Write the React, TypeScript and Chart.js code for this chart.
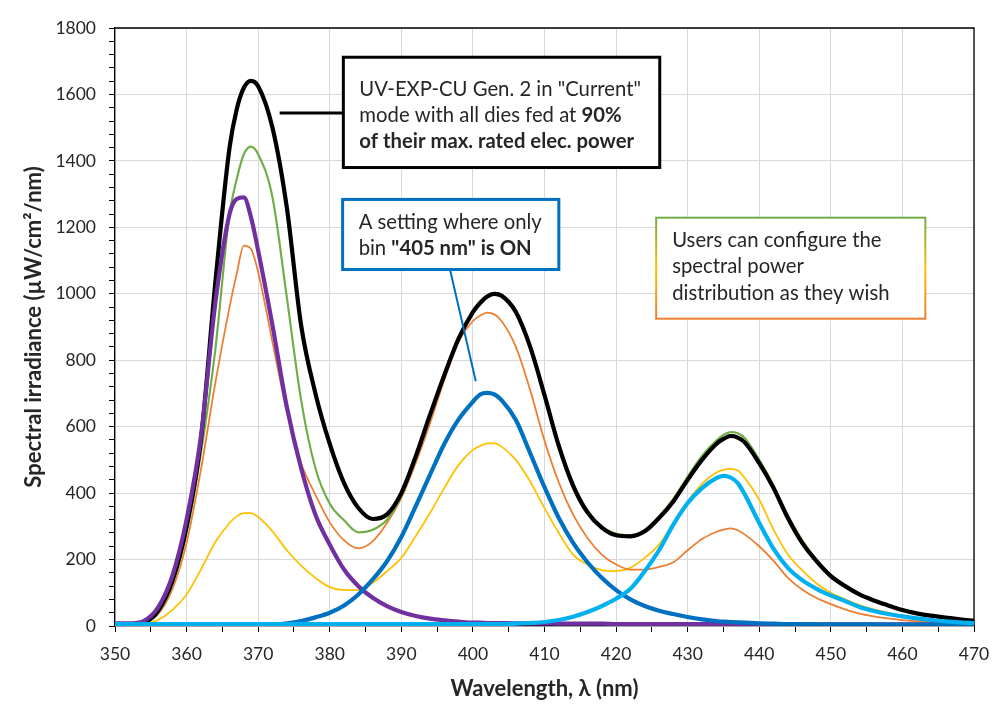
import React, { useEffect, useRef } from "react";
import { Chart, registerables } from "chart.js";

Chart.register(...registerables);

// Wavelength grid (nm)
const wavelengths = [
  350, 352, 354, 356, 358, 360, 362, 364, 366,
  367, 368, 369, 370,
  372, 374, 376, 378, 380, 382, 384, 386, 388, 390, 392, 394, 396, 398, 400,
  401, 402, 403, 404,
  406, 408, 410, 412, 414, 416, 418, 420, 422, 424, 426, 428, 430, 432, 434,
  435, 436, 437, 438,
  440, 442, 444, 446, 448, 450, 452, 454, 456, 458, 460, 462, 464, 466, 468, 470,
];

// Black: all dies at 90 %
const allDies90 = [
  5, 5, 10, 45, 135, 300, 560, 1030, 1440,
  1555, 1620, 1641, 1625,
  1500, 1260, 905, 700, 548, 430, 355, 322, 336, 400, 510, 635, 755, 865, 945,
  972, 992, 1000, 994,
  945, 840, 695, 542, 422, 342, 296, 273, 270, 285, 325, 375, 440, 500, 548,
  563, 572, 567, 552,
  490, 415, 325, 250, 195, 150, 120, 95, 77, 62, 48, 38, 31, 25, 20, 16,
];

// Green user configuration
const configGreen = [
  5, 5, 10, 40, 125, 280, 520, 830, 1240,
  1345, 1420, 1443, 1420,
  1290, 990, 680, 475, 368, 318, 282, 290, 320, 392, 505, 635, 760, 870, 950,
  978, 996, 1003, 998,
  950, 845, 700, 548, 430, 348, 300, 278, 273, 289, 330, 383, 450, 512, 558,
  575, 584, 580, 565,
  500, 423, 333, 258, 200, 154, 122, 97, 79, 64, 50, 40, 32, 26, 21, 17,
];

// Orange user configuration
const configOrange = [
  5, 5, 10, 35, 110, 250, 470, 730, 960,
  1060, 1145, 1135, 1065,
  855, 645, 490, 395, 312, 258, 234, 255, 310, 385, 490, 610, 740, 855, 918,
  934, 943, 938, 918,
  840, 710, 558, 432, 335, 265, 215, 185, 170, 170, 178, 192, 228, 262, 283,
  290, 294, 288, 275,
  240, 196, 145, 110, 84, 66, 50, 37, 29, 23, 18, 15, 13, 11, 10, 9,
];

// Yellow user configuration
const configYellow = [
  3, 3, 6, 18, 48, 95, 170, 252, 310,
  330, 340, 340, 328,
  285, 228, 182, 145, 117, 108, 108, 130, 165, 205, 270, 340, 415, 485, 530,
  542, 550, 550, 540,
  500, 435, 355, 280, 215, 185, 168, 165, 175, 205, 245, 310, 375, 428, 462,
  470, 473, 468, 445,
  380, 290, 215, 168, 128, 100, 80, 63, 50, 40, 30, 24, 19, 15, 12, 10,
];

// Purple: only bin "365 nm"
const bin365 = [
  8, 8, 15, 55, 150, 320, 570, 970, 1240,
  1285, 1290, 1230, 1130,
  905, 660, 475, 335, 245, 170, 120, 85, 60, 42, 30, 22, 17, 13, 10,
  10, 9, 9, 9,
  8, 8, 8, 7, 7, 7, 7, 6, 6, 6, 6, 6, 6, 6, 6,
  6, 6, 6, 6,
  6, 6, 5, 5, 5, 5, 5, 5, 5, 5, 5, 5, 5, 5, 5, 5,
];

// Dark blue: only bin "405 nm"
const bin405 = [
  0, 0, 0, 0, 0, 0, 1, 1, 1,
  1, 2, 2, 2,
  4, 8, 15, 26, 40, 62, 95, 140, 195, 268, 360, 455, 548, 622, 675,
  697, 702, 697, 680,
  620, 520, 418, 325, 250, 192, 145, 108, 80, 60, 46, 36, 27, 20, 15,
  13, 12, 11, 10,
  8, 7, 6, 6, 5, 5, 5, 5, 5, 4, 4, 4, 4, 4, 4, 4,
];

// Light blue: only bin "435 nm"
const bin435 = [
  6, 6, 6, 6, 6, 6, 6, 6, 6,
  6, 6, 6, 6,
  6, 6, 6, 6, 6, 6, 6, 6, 6, 6, 6, 6, 6, 6, 6,
  6, 6, 6, 6,
  7, 9, 12, 18, 28, 42, 60, 82, 112, 165, 228, 305, 370, 415, 445,
  452, 447, 430, 395,
  310, 232, 175, 138, 112, 92, 75, 57, 45, 36, 29, 23, 18, 14, 11, 9,
];

const X_MIN = 350;
const X_MAX = 470;
const X_STEP = 5;
const X_LABEL_STEP = 10;
const Y_MIN = 0;
const Y_MAX = 1800;
const Y_STEP = 40;
const Y_LABEL_STEP = 200;

const X_TITLE = "Wavelength, λ (nm)";
const Y_TITLE = "Spectral irradiance (µW/cm²/nm)";

const FONT = "Lato, 'Open Sans', sans-serif";
const TEXT = "#262626";

type Seg = { t: string; b?: boolean };

const noteMain: Seg[][] = [
  [{ t: 'UV-EXP-CU Gen. 2 in "Current"' }],
  [{ t: "mode with all dies fed at " }, { t: "90%", b: true }],
  [{ t: "of their max. rated elec. power", b: true }],
];
const note405: Seg[][] = [
  [{ t: "A setting where only" }],
  [{ t: "bin " }, { t: '"405 nm" is ON', b: true }],
];
const noteUsers: Seg[][] = [
  [{ t: "Users can configure the" }],
  [{ t: "spectral power" }],
  [{ t: "distribution as they wish" }],
];

function pts(vals: number[]) {
  return wavelengths.map((x, i) => ({ x, y: vals[i] }));
}

function drawRich(ctx: CanvasRenderingContext2D, segs: Seg[], x: number, y: number, size: number) {
  let cx = x;
  for (const s of segs) {
    ctx.font = `${s.b ? "bold " : ""}${size}px ${FONT}`;
    ctx.fillStyle = TEXT;
    ctx.textAlign = "left";
    ctx.textBaseline = "alphabetic";
    ctx.fillText(s.t, cx, y);
    cx += ctx.measureText(s.t).width;
  }
}

const notesPlugin = {
  id: "notes",
  beforeDatasetsDraw(chart: any) {
    const { ctx, chartArea } = chart;
    ctx.save();
    ctx.strokeStyle = "#000";
    ctx.lineWidth = 1.3;
    ctx.beginPath();
    ctx.moveTo(chartArea.left, chartArea.top);
    ctx.lineTo(chartArea.right, chartArea.top);
    ctx.lineTo(chartArea.right, chartArea.bottom);
    ctx.stroke();
    ctx.restore();
  },
  afterDatasetsDraw(chart: any) {
    const { ctx } = chart;
    const xs = chart.scales.x;
    const ys = chart.scales.y;
    const px = (v: number) => xs.getPixelForValue(v);
    const py = (v: number) => ys.getPixelForValue(v);
    const size = 20.3;
    ctx.save();

    // Box 1 (black)
    {
      const l = px(381.9), r = px(426.1), t = py(1712), b = py(1380);
      const cy = py(1544);
      ctx.strokeStyle = "#000";
      ctx.lineWidth = 3;
      ctx.beginPath();
      ctx.moveTo(px(373.0), cy);
      ctx.lineTo(l, cy);
      ctx.stroke();
      ctx.fillStyle = "#fff";
      ctx.fillRect(l, t, r - l, b - t);
      ctx.strokeRect(l, t, r - l, b - t);
      noteMain.forEach((line, i) => drawRich(ctx, line, l + 16, t + 38.5 + i * 26, size));
    }

    // Box 2 (blue)
    {
      const l = px(381.8), r = px(412.0), t = py(1284), b = py(1073);
      ctx.strokeStyle = "#0070C0";
      ctx.lineWidth = 2;
      ctx.beginPath();
      ctx.moveTo(px(396.8), b);
      ctx.lineTo(px(400.4), py(737));
      ctx.stroke();
      ctx.lineWidth = 3;
      ctx.fillStyle = "#fff";
      ctx.fillRect(l, t, r - l, b - t);
      ctx.strokeRect(l, t, r - l, b - t);
      note405.forEach((line, i) => drawRich(ctx, line, l + 16, t + 29.5 + i * 26, size));
    }

    // Box 3 (gradient border)
    {
      const l = px(425.6), r = px(463.2), t = py(1229), b = py(925);
      const g = ctx.createLinearGradient(0, t, 0, b);
      g.addColorStop(0, "#70AD47");
      g.addColorStop(0.5, "#FFC000");
      g.addColorStop(1, "#ED7D31");
      ctx.fillStyle = "#fff";
      ctx.fillRect(l, t, r - l, b - t);
      ctx.strokeStyle = g;
      ctx.lineWidth = 2;
      ctx.strokeRect(l, t, r - l, b - t);
      noteUsers.forEach((line, i) => drawRich(ctx, line, l + 16, t + 29 + i * 26.5, size));
    }
    ctx.restore();
  },
};

export default function App() {
  const ref = useRef<HTMLCanvasElement | null>(null);

  useEffect(() => {
    if (!ref.current) return;
    const thin = 1.75;
    const thick = 4.2;
    const mk = (label: string, vals: number[], color: string, w: number, order: number) => ({
      label,
      data: pts(vals),
      borderColor: color,
      backgroundColor: color,
      borderWidth: w,
      pointRadius: 0,
      fill: false,
      cubicInterpolationMode: "monotone" as const,
      order,
    });
    const chart = new Chart(ref.current, {
      type: "line",
      data: {
        datasets: [
          mk("Bin 435 nm", bin435, "#00B0F0", thick, 0),
          mk("Bin 405 nm", bin405, "#0070C0", thick, 1),
          mk("Bin 365 nm", bin365, "#7030A0", thick, 2),
          mk("All dies 90%", allDies90, "#000000", thick, 3),
          mk("Config green", configGreen, "#70AD47", thin + 0.4, 4),
          mk("Config orange", configOrange, "#ED7D31", thin, 5),
          mk("Config yellow", configYellow, "#FFC000", thin, 6),
        ],
      },
      options: {
        animation: false,
        responsive: false,
        devicePixelRatio: window.devicePixelRatio || 1,
        layout: { padding: { left: 0, top: 28, right: 34, bottom: 0 } },
        plugins: {
          legend: { display: false },
          tooltip: { enabled: false },
        },
        scales: {
          x: {
            type: "linear",
            min: X_MIN,
            max: X_MAX,
            afterFit: (s: any) => {
              s.height = 101;
            },
            ticks: {
              stepSize: X_STEP,
              autoSkip: false,
              maxRotation: 0,
              padding: 12,
              color: TEXT,
              font: { family: FONT, size: 17.5 },
              callback: (v: any) => (Number(v) % X_LABEL_STEP === 0 ? String(v) : ""),
            },
            grid: {
              color: (c: any) => (c.tick && c.tick.value % X_LABEL_STEP === 0 ? "#d9d9d9" : "rgba(0,0,0,0)"),
              tickColor: "#000",
              tickLength: 6,
              lineWidth: 1,
            },
            border: { color: "#000", width: 1.3 },
            title: {
              display: true,
              text: X_TITLE,
              color: TEXT,
              font: { family: FONT, size: 22, weight: "bold" },
              padding: { top: 0, bottom: 25 },
            },
          },
          y: {
            type: "linear",
            min: Y_MIN,
            max: Y_MAX,
            afterFit: (s: any) => {
              s.width = 115;
            },
            ticks: {
              stepSize: Y_STEP,
              autoSkip: false,
              padding: 13,
              color: TEXT,
              font: { family: FONT, size: 17.5 },
              callback: (v: any) => (Number(v) % Y_LABEL_STEP === 0 ? String(v) : ""),
            },
            grid: {
              color: (c: any) => (c.tick && c.tick.value % Y_LABEL_STEP === 0 ? "#d9d9d9" : "rgba(0,0,0,0)"),
              tickColor: "#000",
              tickLength: 6,
              lineWidth: 1,
            },
            border: { color: "#000", width: 1.3 },
            title: {
              display: true,
              text: Y_TITLE,
              color: TEXT,
              font: { family: FONT, size: 22, weight: "bold" },
              padding: { top: 21, bottom: 0 },
            },
          },
        },
      },
      plugins: [notesPlugin],
    } as any);
    return () => chart.destroy();
  }, []);

  return (
    <div style={{ position: "fixed", left: 0, top: 0, width: 1008, height: 727, background: "#fff" }}>
      <canvas ref={ref} width={1008} height={727} style={{ display: "block", width: 1008, height: 727 }} />
    </div>
  );
}
